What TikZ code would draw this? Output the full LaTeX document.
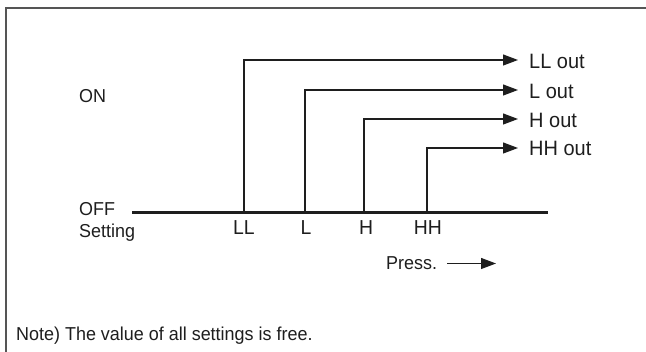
\documentclass[tikz,border=0pt]{standalone}
\usepackage{fontspec}
\setmainfont{Liberation Sans}[FakeStretch=0.96]
\usetikzlibrary{arrows.meta}
\definecolor{ink}{HTML}{1E1E1E}
\definecolor{framegray}{HTML}{555555}
\begin{document}
\begin{tikzpicture}[x=1pt,y=-1pt,
  lbl/.style={font=\fontsize{18.7}{21}\selectfont, text=ink, inner sep=0pt, anchor=base west},
  biglbl/.style={lbl, font=\fontsize{20.8}{23}\selectfont},
  clbl/.style={lbl, font=\fontsize{20.2}{22}\selectfont, anchor=base},
  conn/.style={line width=1.2pt, draw=ink},
  tip/.style={-{Triangle[length=15pt,width=11pt]}},
  axisline/.style={line width=2.6pt, draw=ink},
  frameline/.style={line width=2pt, draw=framegray}
]
\useasboundingbox (0,0) rectangle (646,352);
% frame (open at right and bottom)
\draw[frameline] (6,353) -- (6,8) -- (647,8);

% left labels
\node[lbl] (on) at (79,103) {ON};
\node[lbl] (off) at (79,216) {OFF};
\node[lbl] (setting) at (79,237.5) {Setting};

% setting axis
\coordinate (axS) at (132,212.5);
\coordinate (axE) at (548,212.5);
\draw[axisline] (axS) -- (axE);

% setting points
\coordinate (pLL) at (244,212.5);
\coordinate (pL)  at (305,212.5);
\coordinate (pH)  at (364,212.5);
\coordinate (pHH) at (427,212.5);

\node[clbl] (tLL) at (244,234.5) {LL};
\node[clbl] (tL)  at (306,234.5) {L};
\node[clbl] (tH)  at (366,234.5) {H};
\node[clbl] (tHH) at (428,234.5) {HH};

% arrow ends
\coordinate (aLL) at (518,60);
\coordinate (aL)  at (518,90);
\coordinate (aH)  at (518,119);
\coordinate (aHH) at (518,148);

\node[biglbl] (oLL) at (529,69)    {LL out};
\node[biglbl] (oL)  at (529,98.3)  {L out};
\node[biglbl] (oH)  at (529,127.7) {H out};
\node[biglbl] (oHH) at (529,156)   {HH out};

\draw[conn,tip] (pLL) |- (aLL);
\draw[conn,tip] (pL)  |- (aL);
\draw[conn,tip] (pH)  |- (aH);
\draw[conn,tip] (pHH) |- (aHH);

% pressure direction
\node[lbl] (press) at (386,269.5) {Press.};
\coordinate (pressEnd) at (496,263.5);
\draw[conn,tip] ([xshift=10pt]press.east |- pressEnd) -- (pressEnd);

% note
\node[lbl] (note) at (16,341) {Note) The value of all settings is free.};
\end{tikzpicture}
\end{document}
